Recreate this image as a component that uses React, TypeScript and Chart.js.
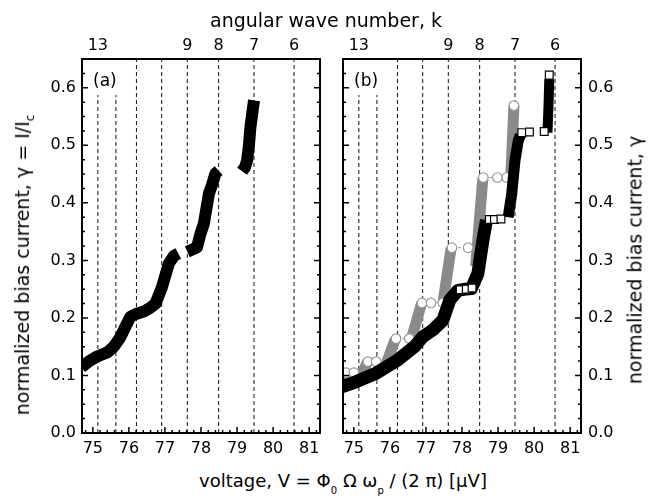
import React, { useEffect, useRef } from 'react';
import { Chart, registerables } from 'chart.js';

Chart.register(...registerables);

const FONT = '"DejaVu Sans", "Liberation Sans", sans-serif';

// ---- axes ----
const voltageRange = [74.7, 81.3];
const currentRange = [0, 0.65];
const voltageTicks = [75, 76, 77, 78, 79, 80, 81];
const currentTicks = [0, 0.1, 0.2, 0.3, 0.4, 0.5, 0.6];

// resonance voltages (dashed lines) and their angular wave numbers (top axis)
const resonanceVoltages = [75.14, 75.64, 76.21, 76.91, 77.62, 78.49, 79.47, 80.58];
const waveNumbers = [13, 12, 11, 10, 9, 8, 7, 6];
const labeledWaveNumbers = [13, 9, 8, 7, 6];

// ---- panel (a): measured branches ----
const aStep1V = [74.68, 74.9, 75.12, 75.4, 75.58, 75.75, 75.86, 76.04, 76.2, 76.41, 76.6, 76.74, 76.92, 77.11, 77.25, 77.37];
const aStep1I = [0.114, 0.125, 0.133, 0.14, 0.15, 0.165, 0.179, 0.202, 0.207, 0.211, 0.218, 0.225, 0.254, 0.295, 0.308, 0.312];
const aStep2V = [77.62, 77.8, 77.89, 77.98, 78.08, 78.15, 78.22, 78.3, 78.4, 78.49];
const aStep2I = [0.315, 0.32, 0.323, 0.345, 0.364, 0.39, 0.416, 0.43, 0.451, 0.456];
const aStep3V = [79.14, 79.22, 79.28, 79.33, 79.37, 79.42, 79.47];
const aStep3I = [0.455, 0.462, 0.474, 0.5, 0.531, 0.555, 0.578];

// ---- panel (b): black branches ----
const bStep1V = [74.66, 75.06, 75.62, 76.22, 76.68, 76.91, 77.19, 77.47, 77.66, 77.89, 78.1, 78.26, 78.44, 78.58, 78.68];
const bStep1I = [0.08, 0.089, 0.104, 0.127, 0.15, 0.167, 0.179, 0.196, 0.231, 0.248, 0.25, 0.251, 0.277, 0.335, 0.37];
const bStep2V = [79.28, 79.38, 79.47, 79.56, 79.62];
const bStep2I = [0.375, 0.416, 0.474, 0.508, 0.518];
const bStep3V = [80.37, 80.4, 80.42];
const bStep3I = [0.522, 0.57, 0.615];
// open squares at the ends of the black branches
const bOpenV = [77.95, 78.12, 78.28, 78.76, 78.9, 79.08, 79.66, 79.87, 80.28, 80.42];
const bOpenI = [0.249, 0.25, 0.252, 0.371, 0.371, 0.372, 0.522, 0.523, 0.524, 0.622];

// ---- panel (b): grey branches ----
const greyRiseStartV = [74.7, 75.2, 75.9, 76.59, 77.47, 78.38, 79.35];
const greyRiseStartI = [0.092, 0.098, 0.121, 0.162, 0.226, 0.29, 0.44];
const greyRiseEndV = [74.8, 75.38, 76.15, 76.88, 77.7, 78.58, 79.44];
const greyRiseEndI = [0.105, 0.124, 0.163, 0.226, 0.322, 0.444, 0.569];
const greyCircleV = [
  [74.79, 75.0],
  [75.39, 75.62],
  [76.17, 76.54],
  [76.89, 77.14, 77.47],
  [77.72, 78.17],
  [78.59, 78.98, 79.24],
  [79.44],
];
const greyCircleI = [0.105, 0.124, 0.164, 0.226, 0.322, 0.444, 0.569];

type P = { x: number; y: number };
const zip = (xs: number[], ys: number[]): P[] => xs.map((x, i) => ({ x, y: ys[i] }));

const common = { xAxisID: 'x', yAxisID: 'y', clip: 0, tension: 0 };

const band = (data: P[], color: string, width: number) => ({
  type: 'line',
  data,
  borderColor: color,
  borderWidth: width,
  borderJoinStyle: 'round',
  borderCapStyle: 'butt',
  pointRadius: 0,
  fill: false,
  ...common,
});

const resonanceLines = () =>
  resonanceVoltages.map((v) => ({
    type: 'line',
    data: [
      { x: v, y: currentRange[0] },
      { x: v, y: currentRange[1] },
    ],
    borderColor: '#111',
    borderWidth: 1,
    borderDash: [4, 3],
    pointRadius: 0,
    fill: false,
    ...common,
  }));

const axisDecor = (label: string) => ({
  id: 'axisDecor',
  afterDatasetsDraw(chart: any) {
    const { ctx, chartArea: a } = chart;
    const xs = chart.scales.x;
    const ys = chart.scales.y;
    ctx.save();
    ctx.fillStyle = '#fff';
    ctx.fillRect(a.left + 1, a.top + 1, 38, 35);
    ctx.fillStyle = '#000';
    ctx.font = `17px ${FONT}`;
    ctx.textAlign = 'left';
    ctx.textBaseline = 'middle';
    ctx.fillText(label, a.left + 11, a.top + 23);

    ctx.strokeStyle = '#000';
    ctx.lineWidth = 1.5;
    ctx.beginPath();
    const i0 = Math.ceil(voltageRange[0] * 5 - 1e-6);
    const i1 = Math.floor(voltageRange[1] * 5 + 1e-6);
    for (let i = i0; i <= i1; i++) {
      const px = xs.getPixelForValue(i / 5);
      const len = i % 5 === 0 ? 6 : 3;
      ctx.moveTo(px, a.bottom);
      ctx.lineTo(px, a.bottom - len);
    }
    for (let i = 0; i * 0.025 <= currentRange[1] + 1e-9; i++) {
      const py = ys.getPixelForValue(i * 0.025);
      const len = i % 4 === 0 ? 6 : 3;
      ctx.moveTo(a.left, py);
      ctx.lineTo(a.left + len, py);
      ctx.moveTo(a.right, py);
      ctx.lineTo(a.right - len, py);
    }
    ctx.stroke();
    ctx.lineWidth = 2;
    ctx.strokeRect(a.left, a.top, a.right - a.left, a.bottom - a.top);
    ctx.restore();
  },
});

const makeOptions = (isB: boolean) => ({
  responsive: false,
  animation: false,
  events: [],
  layout: { padding: isB ? { left: 13, right: 0, top: 0, bottom: 0 } : { left: 0, right: 10, top: 0, bottom: 0 } },
  plugins: { legend: { display: false }, tooltip: { enabled: false }, title: { display: false } },
  scales: {
    x: {
      type: 'linear',
      position: 'bottom',
      min: voltageRange[0],
      max: voltageRange[1],
      grid: { display: false, drawTicks: false },
      border: { display: false },
      afterBuildTicks: (s: any) => {
        s.ticks = voltageTicks.map((value) => ({ value }));
      },
      afterFit: (s: any) => {
        s.height = 37;
      },
      ticks: {
        autoSkip: false,
        maxRotation: 0,
        padding: 6,
        color: '#000',
        font: { family: FONT, size: 16 },
        callback: (v: number) => String(v),
      },
    },
    x2: {
      type: 'linear',
      position: 'top',
      min: voltageRange[0],
      max: voltageRange[1],
      grid: { display: false, drawTicks: false },
      border: { display: false },
      afterBuildTicks: (s: any) => {
        s.ticks = resonanceVoltages.map((value) => ({ value }));
      },
      afterFit: (s: any) => {
        s.height = 59;
      },
      ticks: {
        autoSkip: false,
        maxRotation: 0,
        padding: 4,
        color: '#000',
        font: { family: FONT, size: 16 },
        callback: (_v: number, i: number) => {
          const k = waveNumbers[i];
          return labeledWaveNumbers.includes(k) ? String(k) : '';
        },
      },
    },
    y: {
      type: 'linear',
      position: isB ? 'right' : 'left',
      min: currentRange[0],
      max: currentRange[1],
      grid: { display: false, drawTicks: false },
      border: { display: false },
      afterBuildTicks: (s: any) => {
        s.ticks = currentTicks.map((value) => ({ value }));
      },
      afterFit: (s: any) => {
        s.width = isB ? 68 : 82;
      },
      ticks: {
        autoSkip: false,
        padding: isB ? 7 : 6,
        color: '#000',
        font: { family: FONT, size: 16 },
        callback: (v: number) => v.toFixed(1),
      },
    },
  },
});

export default function App() {
  const aRef = useRef<HTMLCanvasElement>(null);
  const bRef = useRef<HTMLCanvasElement>(null);

  useEffect(() => {
    const aSets = [
      band(zip(aStep1V, aStep1I), '#000', 12),
      band(zip(aStep2V, aStep2I), '#000', 12),
      band(zip(aStep3V, aStep3I), '#000', 12),
      ...resonanceLines(),
    ];

    const greyRises = greyRiseStartV.map((v, i) =>
      band(
        [
          { x: v, y: greyRiseStartI[i] },
          { x: greyRiseEndV[i], y: greyRiseEndI[i] },
        ],
        '#8a8a8a',
        11
      )
    );
    const greyCircles = greyCircleV.map((vs, i) => ({
      type: 'line',
      data: vs.map((x) => ({ x, y: greyCircleI[i] })),
      borderColor: '#999',
      borderWidth: 1,
      borderDash: [3, 3],
      pointStyle: 'circle',
      pointRadius: 4.8,
      pointBackgroundColor: '#fff',
      pointBorderColor: '#999',
      pointBorderWidth: 1.2,
      fill: false,
      ...common,
    }));

    const bSets = [
      {
        type: 'line',
        data: zip(bOpenV, bOpenI),
        showLine: false,
        pointStyle: 'rect',
        pointRadius: 5.5,
        pointBackgroundColor: '#fff',
        pointBorderColor: '#000',
        pointBorderWidth: 1.2,
        ...common,
      },
      band(zip(bStep1V, bStep1I), '#000', 13),
      band(zip(bStep2V, bStep2I), '#000', 11),
      band(zip(bStep3V, bStep3I), '#000', 10),
      ...greyCircles,
      ...greyRises,
      ...resonanceLines(),
    ];

    const ca = new Chart(aRef.current as HTMLCanvasElement, {
      type: 'line',
      data: { datasets: aSets as any },
      options: makeOptions(false) as any,
      plugins: [axisDecor('(a)')],
    });
    const cb = new Chart(bRef.current as HTMLCanvasElement, {
      type: 'line',
      data: { datasets: bSets as any },
      options: makeOptions(true) as any,
      plugins: [axisDecor('(b)')],
    });
    return () => {
      ca.destroy();
      cb.destroy();
    };
  }, []);

  const sub = (t: string, size: number, drop: number) => (
    <span style={{ fontSize: size, position: 'relative', top: drop }}>{t}</span>
  );

  return (
    <div
      style={{
        position: 'absolute',
        left: 0,
        top: 0,
        width: 649,
        height: 499,
        background: '#fff',
        fontFamily: FONT,
        color: '#000',
        overflow: 'hidden',
      }}
    >
      <canvas ref={aRef} width={330} height={470} style={{ position: 'absolute', left: 0, top: 0 }} />
      <canvas ref={bRef} width={319} height={470} style={{ position: 'absolute', left: 330, top: 0 }} />
      <div
        style={{
          position: 'absolute',
          left: 326,
          top: 11,
          transform: 'translateX(-50%)',
          fontSize: 19,
          lineHeight: '19px',
          whiteSpace: 'nowrap',
        }}
      >
        angular wave number, k
      </div>
      <div
        style={{
          position: 'absolute',
          left: 343,
          top: 472,
          transform: 'translateX(-50%)',
          fontSize: 18,
          lineHeight: '18px',
          whiteSpace: 'nowrap',
        }}
      >
        voltage, V = Φ{sub('0', 10, 7)} Ω ω{sub('p', 10, 7)} / (2 π) [μV]
      </div>
      <div
        style={{
          position: 'absolute',
          left: 24,
          top: 265,
          transform: 'translate(-50%, -50%) rotate(-90deg)',
          fontSize: 19,
          lineHeight: '19px',
          whiteSpace: 'nowrap',
        }}
      >
        normalized bias current, γ = I/I{sub('c', 12, 5)}
      </div>
      <div
        style={{
          position: 'absolute',
          left: 635,
          top: 260,
          transform: 'translate(-50%, -50%) rotate(-90deg)',
          fontSize: 19,
          lineHeight: '19px',
          whiteSpace: 'nowrap',
        }}
      >
        normalized bias current, γ
      </div>
    </div>
  );
}
